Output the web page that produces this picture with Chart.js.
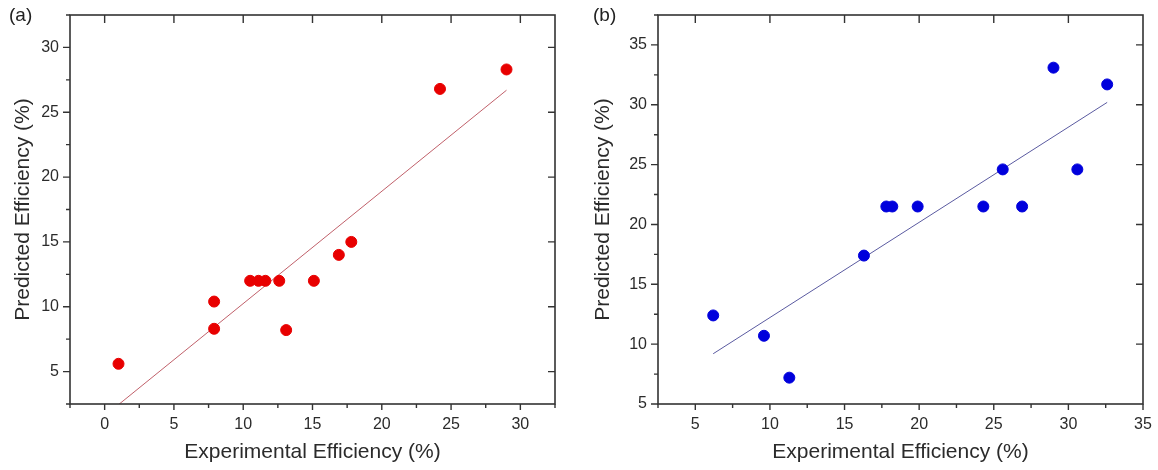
<!DOCTYPE html>
<html>
<head>
<meta charset="utf-8">
<script src="https://cdn.jsdelivr.net/npm/chart.js@4.4.1/dist/chart.umd.min.js"></script>
<style>
    body { margin: 0; background: #fff; }
    #wrap { position: relative; width: 1158px; height: 470px; overflow: hidden; }
    .panel { position: absolute; top: 0; height: 470px; }
    .tag { position: absolute; top: 4px; font: 19px "Liberation Sans", Arial, sans-serif; color: #222; }
</style>
</head>
<body>
<div id="wrap">
    <div class="panel" style="left:0;width:580px"><canvas id="chartA"></canvas></div>
    <div class="panel" style="left:580px;width:578px"><canvas id="chartB"></canvas></div>
    <div class="tag" style="left:9px">(a)</div>
    <div class="tag" style="left:593px">(b)</div>
</div>
<script>
// panel (a) - experimental vs predicted
const expA = [1.0, 7.9, 7.9, 10.5, 11.1, 11.6, 12.6, 13.1, 15.1, 16.9, 17.8, 24.2, 29.0];
const predA = [5.6, 10.4, 8.3, 12.0, 12.0, 12.0, 12.0, 8.2, 12.0, 14.0, 15.0, 26.8, 28.3];
const fitAx = [1.0, 29.0];
const fitAy = [2.45, 26.7];

// panel (b)
const expB = [6.2, 9.6, 11.3, 16.3, 17.8, 18.2, 19.9, 24.3, 25.6, 26.9, 29.0, 30.6, 32.6];
const predB = [12.4, 10.7, 7.2, 17.4, 21.5, 21.5, 21.5, 21.5, 24.6, 21.5, 33.1, 24.6, 31.7];
const fitBx = [6.2, 32.6];
const fitBy = [9.2, 30.2];

const xTitle = "Experimental Efficiency (%)";
const yTitle = "Predicted Efficiency (%)";

Chart.defaults.font.family = '"Liberation Sans", Arial, sans-serif';
Chart.defaults.color = "#2b2b2b";

const pts = (xs, ys) => xs.map((x, i) => ({x: x, y: ys[i]}));
const isMajor = v => Math.abs(v / 5 - Math.round(v / 5)) < 1e-6;

// frame + tick marks (outward on bottom/left, inward on top/right)
const frameTicks = {
    id: "frameTicks",
    afterDatasetsDraw(chart) {
        const {ctx, chartArea: a, scales} = chart;
        ctx.save();
        ctx.strokeStyle = "#333";
        ctx.lineWidth = 1.6;
        ctx.strokeRect(a.left, a.top, a.right - a.left, a.bottom - a.top);
        ctx.lineWidth = 1.4;
        ctx.beginPath();
        scales.x.ticks.forEach(t => {
            const px = scales.x.getPixelForValue(t.value);
            const maj = isMajor(t.value);
            ctx.moveTo(px, a.bottom);
            ctx.lineTo(px, a.bottom + (maj ? 6 : 4));
            if (maj && px > a.left + 2 && px < a.right - 2) {
                ctx.moveTo(px, a.top);
                ctx.lineTo(px, a.top + 8);
            }
        });
        scales.y.ticks.forEach(t => {
            const py = scales.y.getPixelForValue(t.value);
            const maj = isMajor(t.value);
            ctx.moveTo(a.left, py);
            ctx.lineTo(a.left - (maj ? 7 : 4), py);
            if (maj && py > a.top + 2 && py < a.bottom - 2) {
                ctx.moveTo(a.right, py);
                ctx.lineTo(a.right - 7, py);
            }
        });
        ctx.stroke();
        ctx.restore();
    }
};

function makeChart(id, xs, ys, fx, fy, dotColor, lineColor, xr, yr, leftW, rightPad) {
    return new Chart(document.getElementById(id), {
        type: "scatter",
        data: {
            datasets: [
                {
                    data: pts(xs, ys),
                    backgroundColor: dotColor,
                    borderColor: dotColor,
                    pointRadius: 5.5,
                    pointHoverRadius: 5.5
                },
                {
                    type: "line",
                    data: pts(fx, fy),
                    borderColor: lineColor,
                    borderWidth: 1,
                    pointRadius: 0,
                    fill: false
                }
            ]
        },
        options: {
            responsive: true,
            maintainAspectRatio: false,
            animation: false,
            events: [],
            layout: {padding: {top: 15, right: rightPad, left: 0, bottom: 0}},
            plugins: {legend: {display: false}, tooltip: {enabled: false}},
            scales: {
                x: {
                    type: "linear",
                    min: xr[0], max: xr[1],
                    grid: {display: false, drawTicks: false},
                    border: {display: false},
                    ticks: {
                        stepSize: 2.5,
                        padding: 11,
                        font: {size: 16},
                        callback: v => isMajor(v) ? String(Math.round(v)) : ""
                    },
                    title: {display: true, text: xTitle, font: {size: 21}, padding: {bottom: 5}},
                    afterFit: s => { s.height = 66; s.paddingLeft = 0; s.paddingRight = 0; }
                },
                y: {
                    type: "linear",
                    min: yr[0], max: yr[1],
                    grid: {display: false, drawTicks: false},
                    border: {display: false},
                    ticks: {
                        stepSize: 2.5,
                        padding: 11,
                        font: {size: 16},
                        callback: v => isMajor(v) ? String(Math.round(v)) : ""
                    },
                    title: {display: true, text: yTitle, font: {size: 21}, padding: {top: 11}},
                    afterFit: s => { s.width = leftW; s.paddingTop = 0; s.paddingBottom = 0; }
                }
            }
        },
        plugins: [frameTicks]
    });
}

makeChart("chartA", expA, predA, fitAx, fitAy, "#e80000", "#c0606a", [-2.5, 32.5], [2.5, 32.5], 70, 25);
makeChart("chartB", expB, predB, fitBx, fitBy, "#0000dc", "#5a5aa0", [2.5, 35], [5, 37.5], 78, 15);
</script>
</body>
</html>
